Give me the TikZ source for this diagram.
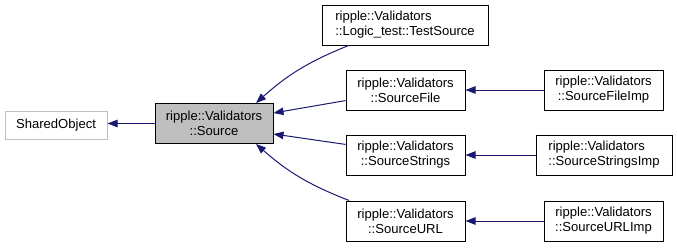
\documentclass[tikz,border=0pt]{standalone}
\usepackage{fontspec}
\setmainfont{Liberation Sans}
\usetikzlibrary{arrows.meta}
\definecolor{edgeblue}{HTML}{191970}
\definecolor{boxgray}{HTML}{BFBFBF}
\tikzset{
  classbox/.style={draw=black, line width=0.75pt, fill=white, inner sep=0pt,
    minimum height=30pt, align=center,
    font=\fontsize{9.8}{11.3}\selectfont},
  extbox/.style={classbox, draw=boxgray},
  focusbox/.style={classbox, fill=boxgray},
  inherit/.style={draw=edgeblue, line width=0.75pt,
    -{Triangle[length=7.5pt, width=5.6pt]}},
}
\begin{document}
\begin{tikzpicture}[x=0.75pt, y=-0.75pt]
\useasboundingbox (0,0) rectangle (677,247);

% base class and the documented class
\node[extbox, minimum width=76.5pt, minimum height=21pt] (shared) at (56,125) {SharedObject};
\node[focusbox, minimum width=88.5pt] (source) at (214,123.5) {ripple::Validators\\::Source};

% direct subclasses
\node[classbox, minimum width=124.5pt, align=left] (testsrc) at (405,25) {ripple::Validators\\::Logic\_test::TestSource};
\node[classbox, minimum width=89.25pt] (file) at (405.5,90) {ripple::Validators\\::SourceFile};
\node[classbox, minimum width=89.25pt] (strings) at (405.5,155) {ripple::Validators\\::SourceStrings};
\node[classbox, minimum width=89.25pt] (url) at (405.5,221) {ripple::Validators\\::SourceURL};

% implementations
\node[classbox, minimum width=89.25pt] (fileimp) at (603.5,90) {ripple::Validators\\::SourceFileImp};
\node[classbox, minimum width=102pt, align=left] (stringsimp) at (604,155) {ripple::Validators\\::SourceStringsImp};
\node[classbox, minimum width=89.25pt] (urlimp) at (603.5,221) {ripple::Validators\\::SourceURLImp};

% inheritance edges
\draw[inherit] (source.west) -- (shared.east |- source.west);
\draw[inherit] (testsrc.200) to[bend right=10] (source.26);
\draw[inherit] (file.190.5) -- (source.10);
\draw[inherit] (strings.170.5) -- (source.350);
\draw[inherit] (url.160) to[bend left=10] (source.334);
\draw[inherit] (fileimp.west) -- (file.east);
\draw[inherit] (stringsimp.west) -- (strings.east);
\draw[inherit] (urlimp.west) -- (url.east);
\end{tikzpicture}
\end{document}
